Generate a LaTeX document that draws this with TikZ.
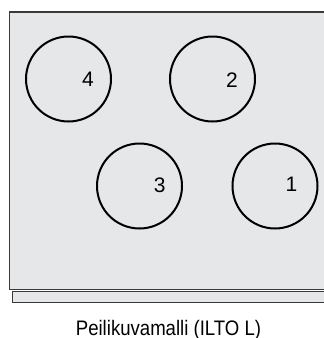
\documentclass[tikz,border=0pt]{standalone}
\usepackage{fontspec}
\setmainfont{Liberation Sans}
\definecolor{panel}{HTML}{E6E7E8}
\definecolor{edge}{HTML}{3A3A3A}
\tikzset{
  hob/.style={draw=black, line width=2pt, circle, minimum size=85pt, inner sep=0pt},
  num/.style={font=\fontsize{21}{21}\selectfont, inner sep=0pt},
  panelbox/.style={fill=panel, draw=edge, line width=1.5pt},
}
\begin{document}
\begin{tikzpicture}[x=1pt,y=-1pt]
\useasboundingbox (0,0) rectangle (324,338);
\fill[white] (0,0) rectangle (324,338);
\begin{scope}
\clip (0,0) rectangle (324,338);
\draw[panelbox] (9.5,12) rectangle (330,289.5);
\draw[panelbox] (12.5,291.5) rectangle (330,302.5);
\end{scope}
\node[hob] (c4) at (68.5,79) {};
\node[hob] (c2) at (212.5,79) {};
\node[hob] (c3) at (139.5,186) {};
\node[hob] (c1) at (275,186) {};
\node[num] (n4) at (88,79.2) {4};
\node[num] (n2) at (232,80) {2};
\node[num] (n3) at (159.7,185) {3};
\node[num] (n1) at (291.5,184) {1};
\node[inner sep=0pt, anchor=base, font=\fontsize{21}{21}\selectfont] (cap) at (168.5,335) {\scalebox{0.885}[1]{Peilikuvamalli (ILTO L)}};
\end{tikzpicture}
\end{document}
